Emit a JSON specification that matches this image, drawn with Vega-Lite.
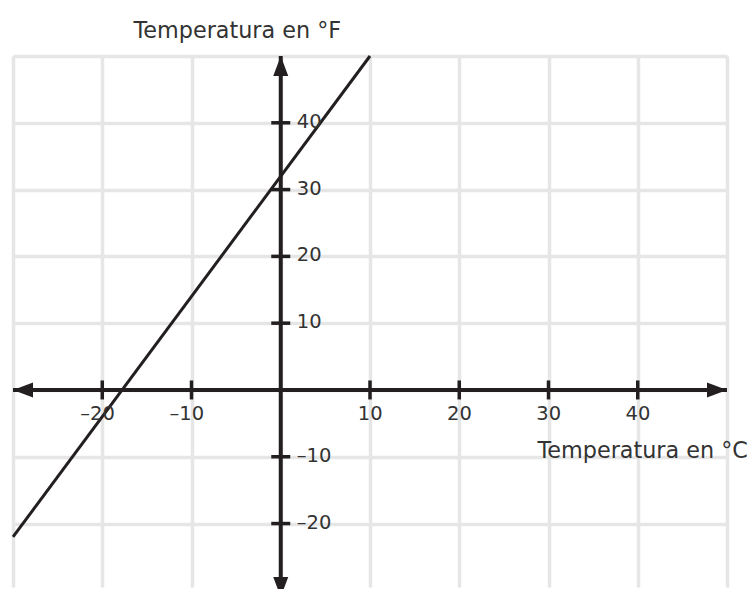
{
  "$schema": "https://vega.github.io/schema/vega-lite/v6.json",
  "width": 714,
  "height": 531,
  "autosize": "none",
  "padding": {"left": 13, "top": 56, "right": 22, "bottom": 2},
  "background": "white",
  "config": {"view": {"stroke": null}, "font": "DejaVu Sans"},
  "datasets": {
    "fc": [{"x": -30, "y": -22}, {"x": 10, "y": 50}],
    "axislines": [
      {"x": -30, "x2": 50, "y": 0, "y2": 0},
      {"x": 0, "x2": 0, "y": -31, "y2": 50}
    ],
    "xlabels": [
      {"x": -20, "label": "–20"},
      {"x": -10, "label": "–10"},
      {"x": 10, "label": "10"},
      {"x": 20, "label": "20"},
      {"x": 30, "label": "30"},
      {"x": 40, "label": "40"}
    ],
    "ylabels": [
      {"y": -20, "label": "–20"},
      {"y": -10, "label": "–10"},
      {"y": 10, "label": "10"},
      {"y": 20, "label": "20"},
      {"y": 30, "label": "30"},
      {"y": 40, "label": "40"}
    ],
    "arrows": [
      {"x": 50, "y": 0, "dir": "right"},
      {"x": -30, "y": 0, "dir": "left"},
      {"x": 0, "y": 50, "dir": "up"},
      {"x": 0, "y": -31, "dir": "down"}
    ]
  },
  "layer": [
    {
      "data": {"name": "fc"},
      "mark": {"type": "line", "color": "#231f20", "strokeWidth": 3},
      "encoding": {
        "x": {
          "field": "x", "type": "quantitative",
          "scale": {"domain": [-30, 50], "nice": false, "zero": false},
          "axis": {
            "orient": "bottom",
            "values": [-30, -20, -10, 0, 10, 20, 30, 40, 50],
            "grid": true, "gridColor": "#e6e6e6", "gridWidth": 3.5, "gridOpacity": 1,
            "domain": false, "ticks": false, "labels": false,
            "title": "Temperatura en °C",
            "titleX": 524, "titleY": -130,
            "titleAlign": "left", "titleBaseline": "alphabetic", "titleAngle": 0,
            "titleFont": "DejaVu Sans", "titleFontSize": 22.3, "titleFontWeight": "normal",
            "titleColor": "#333333"
          }
        },
        "y": {
          "field": "y", "type": "quantitative",
          "scale": {"domain": [-29.5, 50], "nice": false, "zero": false},
          "axis": {
            "orient": "left",
            "values": [-20, -10, 0, 10, 20, 30, 40, 50],
            "grid": true, "gridColor": "#e6e6e6", "gridWidth": 3.5, "gridOpacity": 1,
            "domain": false, "ticks": false, "labels": false,
            "title": "Temperatura en °F",
            "titleX": 120, "titleY": -19,
            "titleAlign": "left", "titleBaseline": "alphabetic", "titleAngle": 0,
            "titleFont": "DejaVu Sans", "titleFontSize": 22.3, "titleFontWeight": "normal",
            "titleColor": "#333333"
          }
        }
      }
    },
    {
      "data": {"name": "axislines"},
      "mark": {"type": "rule", "color": "#231f20", "strokeWidth": 4},
      "encoding": {
        "x": {"field": "x", "type": "quantitative"},
        "x2": {"field": "x2"},
        "y": {"field": "y", "type": "quantitative"},
        "y2": {"field": "y2"}
      }
    },
    {
      "data": {"name": "xlabels"},
      "mark": {"type": "tick", "orient": "vertical", "size": 19, "thickness": 3.5, "color": "#231f20", "opacity": 1},
      "encoding": {
        "x": {"field": "x", "type": "quantitative"},
        "y": {"datum": 0, "type": "quantitative"}
      }
    },
    {
      "data": {"name": "ylabels"},
      "mark": {"type": "tick", "orient": "horizontal", "size": 19, "thickness": 3.5, "color": "#231f20", "opacity": 1},
      "encoding": {
        "y": {"field": "y", "type": "quantitative"},
        "x": {"datum": 0, "type": "quantitative"}
      }
    },
    {
      "data": {"name": "arrows"},
      "mark": {"type": "point", "filled": true, "size": 400, "color": "#231f20", "opacity": 1},
      "encoding": {
        "x": {"field": "x", "type": "quantitative"},
        "y": {"field": "y", "type": "quantitative"},
        "shape": {
          "field": "dir", "type": "nominal", "legend": null,
          "scale": {
            "domain": ["right", "left", "up", "down"],
            "range": ["M0,0L-2,-0.75L-2,0.75Z", "M0,0L2,-0.75L2,0.75Z", "M0,0L-0.75,2L0.75,2Z", "M0,0L-0.75,-2L0.75,-2Z"]
          }
        }
      }
    },
    {
      "data": {"name": "xlabels"},
      "mark": {"type": "text", "align": "right", "baseline": "alphabetic", "dx": 12.7, "dy": 30, "fontSize": 19.5, "font": "DejaVu Sans", "color": "#333333"},
      "encoding": {
        "x": {"field": "x", "type": "quantitative"},
        "y": {"datum": 0, "type": "quantitative"},
        "text": {"field": "label"}
      }
    },
    {
      "data": {"name": "ylabels"},
      "mark": {"type": "text", "align": "left", "baseline": "alphabetic", "dx": 16, "dy": 5, "fontSize": 19.5, "font": "DejaVu Sans", "color": "#333333"},
      "encoding": {
        "y": {"field": "y", "type": "quantitative"},
        "x": {"datum": 0, "type": "quantitative"},
        "text": {"field": "label"}
      }
    }
  ]
}
